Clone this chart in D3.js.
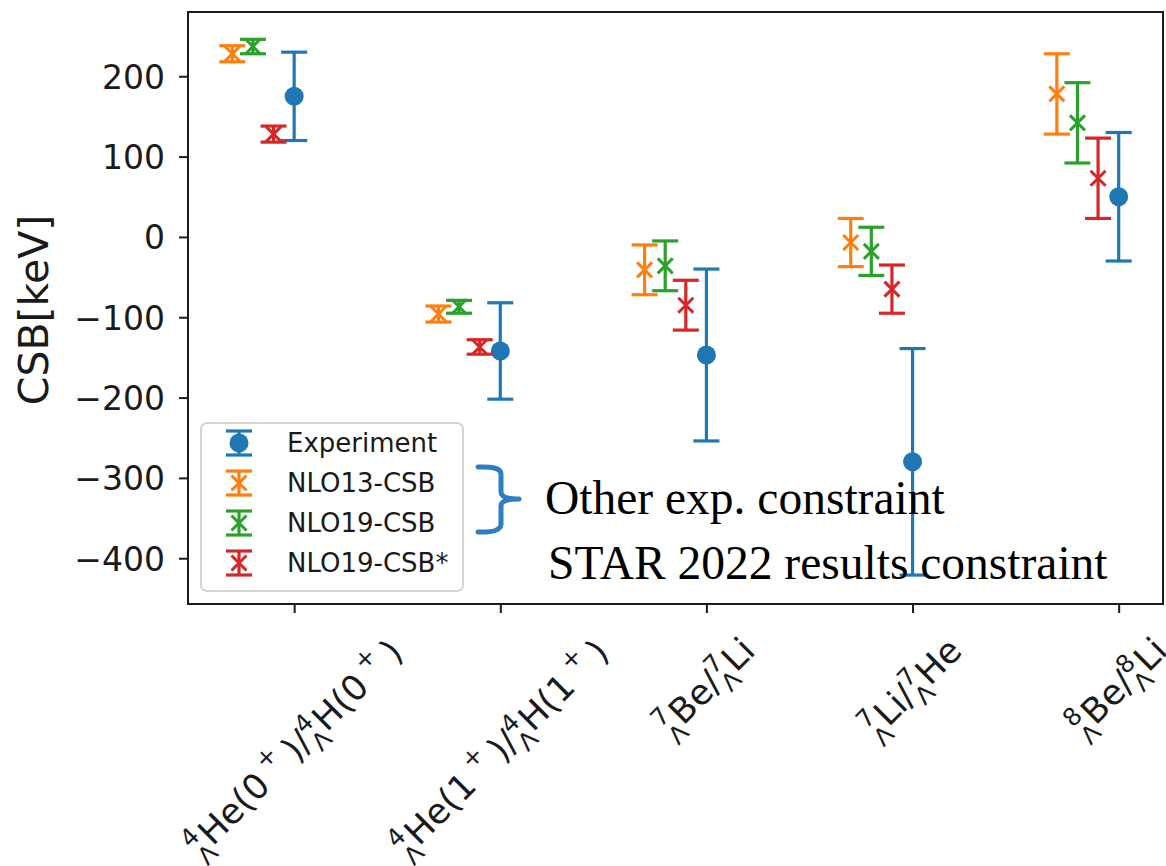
<!DOCTYPE html>
<html>
<head>
<meta charset="utf-8">
<script src="https://cdn.jsdelivr.net/npm/d3@7"></script>
<style>
  body { margin: 0; background: #fff; }
  text { font-family: "DejaVu Sans", sans-serif; fill: #1a1a1a; }
  .note { font-family: "Liberation Serif", "Times New Roman", serif; fill: #000; }
</style>
</head>
<body>
<script>
//data
var categories = ["^4_ΛHe(0^+)/^4_ΛH(0^+)", "^4_ΛHe(1^+)/^4_ΛH(1^+)", "^7_ΛBe/^7_ΛLi", "^7_ΛLi/^7_ΛHe", "^8_ΛBe/^8_ΛLi"];
var yTicks = [-400, -300, -200, -100, 0, 100, 200];

var experiment    = [175, -142, -147, -280, 50];
var experimentErr = [55, 60, 107, 141, 80];
var nlo13         = [228, -96, -41, -7, 178];
var nlo13Err      = [10, 10, 31, 30, 50];
var nlo19         = [237, -87, -36, -18, 142];
var nlo19Err      = [9, 8, 31, 30, 50];
var nlo19s        = [128, -137, -85, -65, 73];
var nlo19sErr     = [10, 9, 31, 30, 50];

var seriesNames = ["Experiment", "NLO13-CSB", "NLO19-CSB", "NLO19-CSB*"];
var colors = ["#1f77b4", "#ff7f0e", "#2ca02c", "#d62728"];
var offsets = [0, -0.3, -0.2, -0.1];

var series = [
    {name: seriesNames[0], vals: experiment, errs: experimentErr, marker: "o"},
    {name: seriesNames[1], vals: nlo13, errs: nlo13Err, marker: "x"},
    {name: seriesNames[2], vals: nlo19, errs: nlo19Err, marker: "x"},
    {name: seriesNames[3], vals: nlo19s, errs: nlo19sErr, marker: "x"}
];

//layout
var W = 1166, H = 866;
var plot = {left: 188, right: 1163, top: 12, bottom: 604};
var capHalf = 13;

var xScale = d3.scaleLinear().domain([-0.515, 4.215]).range([plot.left, plot.right]);
var yScale = d3.scaleLinear().domain([-457, 280]).range([plot.bottom, plot.top]);

var svg = d3.select("body").append("svg")
    .attr("width", W).attr("height", H);

svg.append("rect").attr("width", W).attr("height", H).attr("fill", "#fff");

//y axis
var yAxis = d3.axisLeft(yScale)
    .tickValues(yTicks)
    .tickSizeInner(9).tickSizeOuter(0).tickPadding(14)
    .tickFormat(function(d){ return d < 0 ? "\u2212" + Math.abs(d) : d; });

var gy = svg.append("g")
    .attr("transform", "translate(" + plot.left + ",0)")
    .call(yAxis);
gy.select(".domain").remove();
gy.selectAll("line").attr("stroke", "#1a1a1a").attr("stroke-width", 2);
gy.selectAll("text").style("font-size", "33px").attr("fill", "#1a1a1a").attr("dy", "0.36em");

//x axis (ticks only, labels built by hand below)
var xAxis = d3.axisBottom(xScale)
    .tickValues(d3.range(categories.length))
    .tickSizeInner(9).tickSizeOuter(0)
    .tickFormat("");

var gx = svg.append("g")
    .attr("transform", "translate(0," + plot.bottom + ")")
    .call(xAxis);
gx.select(".domain").remove();
gx.selectAll("line").attr("stroke", "#1a1a1a").attr("stroke-width", 2);

//y label
svg.append("text")
    .attr("transform", "translate(48," + ((plot.top + plot.bottom) / 2 + 2) + ") rotate(-90)")
    .attr("text-anchor", "middle")
    .style("font-size", "41px")
    .text("CSB[keV]");

//error bars
var chart = svg.append("g");

series.forEach(function(s, si){
    var g = chart.append("g").attr("stroke", colors[si]).attr("fill", colors[si]);
    s.vals.forEach(function(v, i){
        var cx = xScale(i + offsets[si]);
        var y0 = yScale(v - s.errs[i]), y1 = yScale(v + s.errs[i]);
        g.append("line").attr("x1", cx).attr("x2", cx).attr("y1", y0).attr("y2", y1)
            .attr("stroke-width", 3.2);
        [y0, y1].forEach(function(yy){
            g.append("line").attr("x1", cx - capHalf).attr("x2", cx + capHalf)
                .attr("y1", yy).attr("y2", yy).attr("stroke-width", 3.2);
        });
        drawMarker(g, s.marker, cx, yScale(v));
    });
});

//frame
svg.append("rect")
    .attr("x", plot.left).attr("y", plot.top)
    .attr("width", plot.right - plot.left).attr("height", plot.bottom - plot.top)
    .attr("fill", "none").attr("stroke", "#1a1a1a").attr("stroke-width", 2);

//legend
var leg = svg.append("g");
leg.append("rect")
    .attr("x", 201).attr("y", 423).attr("width", 262).attr("height", 168)
    .attr("rx", 6).attr("ry", 6)
    .attr("fill", "#fff").attr("fill-opacity", 0.8)
    .attr("stroke", "#d4d4d4").attr("stroke-width", 2);

series.forEach(function(s, si){
    var cy = 443 + si * 40, cx = 239;
    var g = leg.append("g").attr("stroke", colors[si]).attr("fill", colors[si]);
    g.append("line").attr("x1", cx).attr("x2", cx).attr("y1", cy - 12).attr("y2", cy + 12).attr("stroke-width", 3.2);
    [cy - 12, cy + 12].forEach(function(yy){
        g.append("line").attr("x1", cx - capHalf).attr("x2", cx + capHalf)
            .attr("y1", yy).attr("y2", yy).attr("stroke-width", 3.2);
    });
    drawMarker(g, s.marker, cx, cy);
    leg.append("text")
        .attr("x", 287).attr("y", cy).attr("dy", "0.36em")
        .style("font-size", "26px")
        .text(s.name);
});

//x tick labels with pre-scripts, rotated 45 degrees
categories.forEach(function(lab, i){
    var outer = svg.append("g");
    var inner = outer.append("g");
    layoutLabel(inner, lab, 35);
    var b = inner.node().getBBox();
    var c = Math.SQRT1_2;
    var pts = [[b.x, b.y], [b.x + b.width, b.y], [b.x, b.y + b.height], [b.x + b.width, b.y + b.height]]
        .map(function(p){ return [c * (p[0] + p[1]), c * (p[1] - p[0])]; });
    var minX = d3.min(pts, function(p){ return p[0]; });
    var maxX = d3.max(pts, function(p){ return p[0]; });
    var minY = d3.min(pts, function(p){ return p[1]; });
    var tx = xScale(i) - (minX + maxX) / 2;
    var ty = plot.bottom + 22 - minY;
    outer.attr("transform", "translate(" + tx + "," + ty + ") rotate(-45)");
});

//annotation overlay
var brace = d3.path();
brace.moveTo(478, 467);
brace.quadraticCurveTo(501, 466, 501, 474);
brace.lineTo(501, 492);
brace.quadraticCurveTo(501, 499, 519, 499);
brace.quadraticCurveTo(501, 499, 501, 506);
brace.lineTo(501, 524);
brace.quadraticCurveTo(501, 533, 478, 532);
svg.append("path")
    .attr("d", brace.toString())
    .attr("fill", "none").attr("stroke", "#2e7ec4").attr("stroke-width", 5)
    .attr("stroke-linecap", "round").attr("stroke-linejoin", "round");

svg.append("text").attr("class", "note")
    .attr("x", 545).attr("y", 514)
    .style("font-size", "47.5px")
    .text("Other exp. constraint");

svg.append("text").attr("class", "note")
    .attr("x", 548).attr("y", 579)
    .style("font-size", "47.5px")
    .text("STAR 2022 results constraint");


//draws a circle or x marker
function drawMarker(g, type, x, y){
    if(type === "o"){
        g.append("circle").attr("cx", x).attr("cy", y).attr("r", 9.5).attr("stroke", "none");
    } else {
        var s = 7.5;
        g.append("path")
            .attr("d", "M " + (x - s) + " " + (y - s) + " L " + (x + s) + " " + (y + s) +
                       " M " + (x - s) + " " + (y + s) + " L " + (x + s) + " " + (y - s))
            .attr("fill", "none").attr("stroke-width", 3);
    }
}

//lays out a label like "^4_ΛHe(0^+)" with stacked pre-scripts
function layoutLabel(g, str, fs){
    var small = fs * 0.7;
    var x = 0, run = "";
    var supShift = -0.42 * fs, subShift = 0.3 * fs;

    function piece(t, size, dy){
        var el = g.append("text").attr("x", x).attr("y", dy)
            .style("font-size", size + "px").text(t);
        return el.node().getComputedTextLength();
    }
    function flush(){
        if(run){ x += piece(run, fs, 0); run = ""; }
    }

    for(var k = 0; k < str.length; k++){
        var ch = str[k];
        if(ch === "^"){
            flush();
            var sup = str[k + 1];
            k++;
            //a trailing superscript (like the +) gets space on both sides
            var trailing = k > 1 && str[k - 2] !== "/";
            var gap = trailing ? 0.2 * fs : 0;
            x += gap;
            var w1 = piece(sup, small, trailing ? -0.5 * fs : supShift);
            var w2 = 0;
            if(str[k + 1] === "_"){
                w2 = piece(str[k + 2], small, subShift);
                k += 2;
            }
            x += Math.max(w1, w2) + (trailing ? 0.2 * fs : 0.02 * fs);
        } else {
            run += ch;
        }
    }
    flush();
}
</script>
</body>
</html>
